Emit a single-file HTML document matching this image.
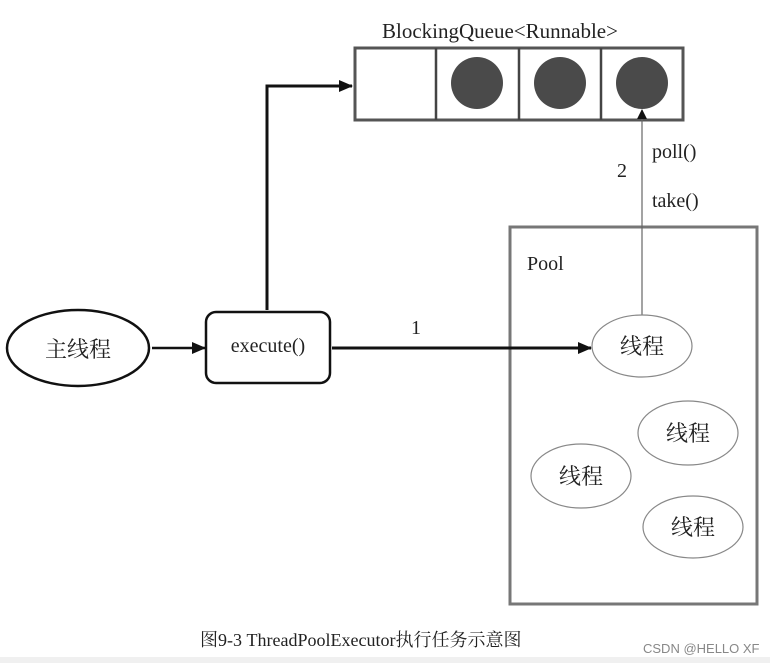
<!DOCTYPE html>
<html><head><meta charset="utf-8"><style>
html,body{margin:0;padding:0;background:#fff;}
svg{display:block;}
.s{font-family:"Liberation Serif","Noto Serif CJK SC",serif;fill:#222;}
.c{font-family:"Liberation Sans","Noto Sans CJK SC",sans-serif;}
</style></head><body>
<svg width="770" height="663" viewBox="0 0 770 663" xmlns="http://www.w3.org/2000/svg">
<defs>
<marker id="a" markerWidth="10" markerHeight="10" refX="9" refY="5" orient="auto" markerUnits="userSpaceOnUse"><path d="M0,0 L10,5 L0,10 z" fill="#111"/></marker>
<marker id="b" markerWidth="14" markerHeight="14" refX="13" refY="6" orient="auto" markerUnits="userSpaceOnUse"><path d="M0,0 L14,6 L0,12 z" fill="#111"/></marker>
</defs>
<text x="500" y="38" text-anchor="middle" class="s" font-size="21">BlockingQueue&lt;Runnable&gt;</text>
<rect x="355" y="48" width="328" height="72" fill="#fff" stroke="#555" stroke-width="3"/>
<line x1="436" y1="48" x2="436" y2="120" stroke="#444" stroke-width="2.5"/>
<line x1="519" y1="48" x2="519" y2="120" stroke="#444" stroke-width="2.5"/>
<line x1="601" y1="48" x2="601" y2="120" stroke="#444" stroke-width="2.5"/>
<ellipse cx="477" cy="83" rx="26" ry="26" fill="#4a4a4a"/>
<ellipse cx="560" cy="83" rx="26" ry="26" fill="#4a4a4a"/>
<ellipse cx="642" cy="83" rx="26" ry="26" fill="#4a4a4a"/>
<rect x="510" y="227" width="247" height="377" fill="none" stroke="#777" stroke-width="3"/>
<text x="527" y="270" class="s" font-size="20">Pool</text>
<polyline points="267,310 267,86 352,86" fill="none" stroke="#111" stroke-width="3" marker-end="url(#b)"/>
<line x1="642" y1="315" x2="642" y2="110" stroke="#666" stroke-width="1.2" marker-end="url(#a)"/>
<text x="652" y="158" class="s" font-size="20">poll()</text>
<text x="617" y="177" class="s" font-size="20">2</text>
<text x="652" y="207" class="s" font-size="20">take()</text>
<ellipse cx="78" cy="348" rx="71" ry="38" fill="#fff" stroke="#111" stroke-width="2.5"/>
<text x="78" y="357" text-anchor="middle" class="s" font-size="22">主线程</text>
<line x1="152" y1="348" x2="205" y2="348" stroke="#111" stroke-width="2.5" marker-end="url(#b)"/>
<rect x="206" y="312" width="124" height="71" rx="10" fill="#fff" stroke="#111" stroke-width="2.5"/>
<text x="268" y="352" text-anchor="middle" class="s" font-size="20">execute()</text>
<line x1="332" y1="348" x2="591" y2="348" stroke="#111" stroke-width="3" marker-end="url(#b)"/>
<text x="416" y="334" text-anchor="middle" class="s" font-size="20">1</text>
<ellipse cx="642" cy="346" rx="50" ry="31" fill="#fff" stroke="#888" stroke-width="1.2"/>
<text x="642" y="354" text-anchor="middle" class="s" font-size="22">线程</text>
<ellipse cx="581" cy="476" rx="50" ry="32" fill="#fff" stroke="#888" stroke-width="1.2"/>
<text x="581" y="484" text-anchor="middle" class="s" font-size="22">线程</text>
<ellipse cx="688" cy="433" rx="50" ry="32" fill="#fff" stroke="#888" stroke-width="1.2"/>
<text x="688" y="441" text-anchor="middle" class="s" font-size="22">线程</text>
<ellipse cx="693" cy="527" rx="50" ry="31" fill="#fff" stroke="#888" stroke-width="1.2"/>
<text x="693" y="535" text-anchor="middle" class="s" font-size="22">线程</text>
<text x="200" y="646" class="s" font-size="18">图9-3  ThreadPoolExecutor执行任务示意图</text>
<text x="643" y="653" class="c" font-size="13" fill="#888">CSDN @HELLO XF</text>
<rect x="0" y="657" width="770" height="6" fill="#f0f0f0"/>
</svg>
</body></html>
